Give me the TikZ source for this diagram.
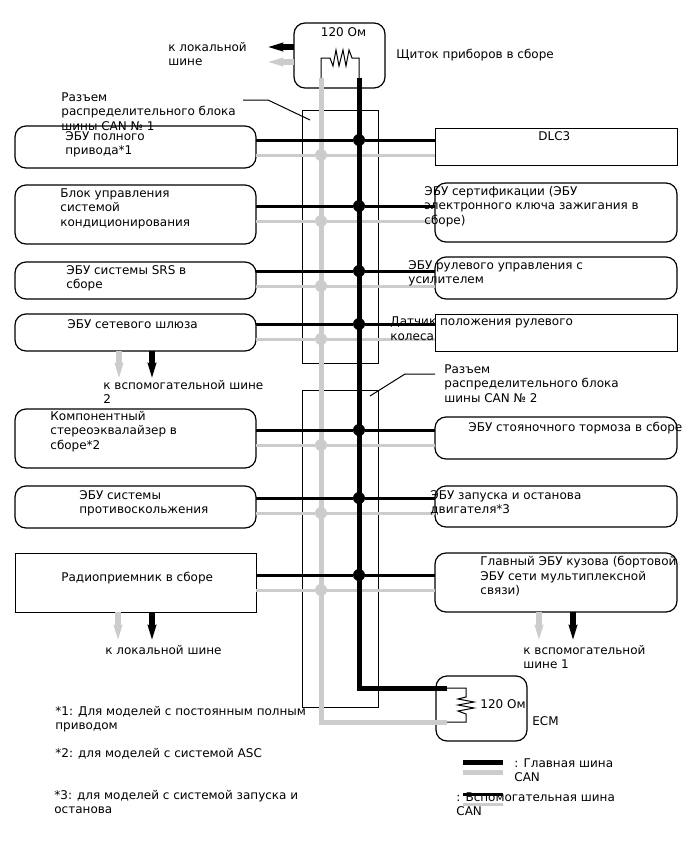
\documentclass[tikz,border=0pt]{standalone}
\usepackage{fontspec}
\setmainfont{DejaVu Sans}
\usetikzlibrary{positioning, arrows.meta}

\begin{document}
\begin{tikzpicture}[x=1pt, y=-1pt, thick,
  font=\fontsize{12}{14.5}\selectfont,
  main box/.style={draw, line width=1.2pt, rounded corners=11pt, fill=white, inner sep=0, outer sep=0, anchor=north west},
  flat box/.style={draw, line width=1pt, fill=white, inner sep=0, outer sep=0, anchor=north west},
  conn box/.style={draw, line width=1pt, inner sep=0, outer sep=0, anchor=north west},
  lbl/.style={anchor=north west, inner sep=0, align=left, yshift=10.15pt, execute at begin node=\strut},
  hi joint/.style={circle, fill=black, inner sep=0, minimum size=12pt},
  lo joint/.style={circle, fill=black!20, inner sep=0, minimum size=12pt},
  hi bus/.style={line width=5pt, black},
  lo bus/.style={line width=5pt, black!20},
  hi line/.style={line width=3pt, black},
  lo line/.style={line width=3pt, black!20},
  hi out/.style={line width=5.5pt, black, -{Stealth[length=15pt, width=8.5pt, inset=2pt]}},
  lo out/.style={line width=5.5pt, black!20, -{Stealth[length=15pt, width=8.5pt, inset=2pt]}},
  thin wire/.style={line width=1pt}]

\useasboundingbox (0,0) rectangle (688,852);

% connector blocks
\node[conn box, minimum width=76pt, minimum height=253pt] (connA) at (302.5,110) {};
\node[conn box, minimum width=76pt, minimum height=317pt] (connB) at (302.5,390) {};

% left column
\node[main box, minimum width=241pt, minimum height=42pt] (awd) at (15,126) {};
\node[main box, minimum width=241pt, minimum height=59pt] (climate) at (15,185) {};
\node[main box, minimum width=241pt, minimum height=37pt] (srs) at (15,262) {};
\node[main box, minimum width=241pt, minimum height=37pt] (gateway) at (15,314) {};
\node[main box, minimum width=241pt, minimum height=59pt] (stereo) at (15,409) {};
\node[main box, minimum width=241pt, minimum height=42pt] (abs) at (15,486) {};
\node[flat box, minimum width=241pt, minimum height=59pt] (radio) at (15,553) {};

% right column
\node[flat box, minimum width=242pt, minimum height=37pt] (dlc) at (435,128) {};
\node[main box, minimum width=242pt, minimum height=59pt] (cert) at (435,183) {};
\node[main box, minimum width=242pt, minimum height=42pt] (eps) at (435,257) {};
\node[flat box, minimum width=242pt, minimum height=37pt] (sensor) at (435,314) {};
\node[main box, minimum width=242pt, minimum height=42pt] (park) at (435,417) {};
\node[main box, minimum width=242pt, minimum height=41pt] (stst) at (435,486) {};
\node[main box, minimum width=242pt, minimum height=59pt] (body) at (435,553) {};

% terminators
\node[main box, minimum width=91pt, minimum height=65pt] (meter) at (294,23) {};
\node[main box, minimum width=91pt, minimum height=65pt] (ecm) at (436,676) {};

% bus ends
\coordinate (hiTop) at (359,78);
\coordinate (loTop) at (321,78);
\coordinate (hiEnd) at (447,688);
\coordinate (loEnd) at (447,722);
\coordinate (hiCorner) at (359,688);
\coordinate (loCorner) at (321,722);

% splice points
\foreach \name/\yy in {A/140, B/206, C/271, D/324, E/430, F/498, G/575}
  \node[hi joint] (hi\name) at (359,\yy) {};
\foreach \name/\yy in {A/155, B/221, C/286, D/339, E/445, F/513, G/590}
  \node[lo joint] (lo\name) at (321,\yy) {};

% low side first, the black runs over it
\draw[lo bus, line join=miter] (loTop) -- (loCorner) -- (loEnd);
\foreach \lft/\rgt/\name in {awd/dlc/A, climate/cert/B, srs/eps/C, gateway/sensor/D, stereo/park/E, abs/stst/F, radio/body/G}
  \draw[lo line] (\lft.east |- lo\name) -- (lo\name) -- (\rgt.west |- lo\name);
\draw[hi bus, line join=miter] (hiTop) -- (hiCorner) -- (hiEnd);
\foreach \lft/\rgt/\name in {awd/dlc/A, climate/cert/B, srs/eps/C, gateway/sensor/D, stereo/park/E, abs/stst/F, radio/body/G}
  \draw[hi line] (\lft.east |- hi\name) -- (hi\name) -- (\rgt.west |- hi\name);

% resistors
\draw[thin wire] (loTop) -- (321,58) -- (330,58) -- (333,66) -- (336,50) -- (339,66) -- (343,50) -- (346,66) -- (349,50) -- (352,58) -- (359,58) -- (hiTop);
\draw[thin wire] (hiEnd) -- (466,688) -- (466,697) -- (458,699) -- (474,702) -- (458,705) -- (474,708) -- (458,711) -- (466,714) -- (466,722) -- (loEnd);

% stubs to the other buses
\coordinate (meterHi) at (268,47);
\coordinate (meterLo) at (268,62);
\coordinate (gwLo) at (119,378);
\coordinate (gwHi) at (152,378);
\coordinate (radioLo) at (118,640);
\coordinate (radioHi) at (152,640);
\coordinate (bodyLo) at (539,640);
\coordinate (bodyHi) at (573,640);
\draw[hi out] (meter.west |- meterHi) -- (meterHi);
\draw[lo out] (meter.west |- meterLo) -- (meterLo);
\draw[lo out] (gateway.south -| gwLo) -- (gwLo);
\draw[hi out] (gateway.south -| gwHi) -- (gwHi);
\draw[lo out] (radio.south -| radioLo) -- (radioLo);
\draw[hi out] (radio.south -| radioHi) -- (radioHi);
\draw[lo out] (body.south -| bodyLo) -- (bodyLo);
\draw[hi out] (body.south -| bodyHi) -- (bodyHi);

% leaders
\coordinate (leadA) at (243,100);
\coordinate (leadB) at (435,374);
\draw[thin wire] (leadA) -- (268,100) -- (310,120);
\draw[thin wire] (leadB) -- (405,374) -- (370,396);

% labels
\node[lbl] (meterOhm) at (320.5,36) {120 Ом};
\node[lbl] (meterTxt) at (396,58) {Щиток приборов в сборе};
\node[lbl] (localTxt) at (168,52) {к локальной\\шине};
\node[lbl] (connAtxt) at (61,102) {Разъем\\распределительного блока\\шины CAN № 1};
\node[lbl] (connBtxt) at (444,374) {Разъем\\распределительного блока\\шины CAN № 2};
\node[lbl] (awdTxt) at (65,141) {ЭБУ полного\\привода*1};
\node[lbl] (climateTxt) at (60,198) {Блок управления\\системой\\кондиционирования};
\node[lbl] (srsTxt) at (66,275) {ЭБУ системы SRS в\\сборе};
\node[lbl] (gatewayTxt) at (67,328) {ЭБУ сетевого шлюза};
\node[lbl] (aux2Txt) at (103,390) {к вспомогательной шине\\2};
\node[lbl] (stereoTxt) at (50,421) {Компонентный\\стереоэквалайзер в\\сборе*2};
\node[lbl] (absTxt) at (79,500) {ЭБУ системы\\противоскольжения};
\node[lbl] (radioTxt) at (61,581) {Радиоприемник в сборе};
\node[lbl] (localBtxt) at (105,654) {к локальной шине};
\node[lbl] (dlcTxt) at (538,140) {DLC3};
\node[lbl] (certTxt) at (424,196) {ЭБУ сертификации (ЭБУ\\электронного ключа зажигания в\\сборе)};
\node[lbl] (epsTxt) at (408,270) {ЭБУ рулевого управления с\\усилителем};
\node[lbl] (sensorTxt) at (390,326.5) {Датчик положения рулевого\\колеса};
\node[lbl] (parkTxt) at (468,431) {ЭБУ стояночного тормоза в сборе};
\node[lbl] (ststTxt) at (430,500) {ЭБУ запуска и останова\\двигателя*3};
\node[lbl] (bodyTxt) at (480,566) {Главный ЭБУ кузова (бортовой\\ЭБУ сети мультиплексной\\связи)};
\node[lbl] (aux1Txt) at (523,655) {к вспомогательной\\шине 1};
\node[lbl] (ecmOhm) at (480,708) {120 Ом};
\node[lbl] (ecmTxt) at (532,725) {ECM};
\node[lbl] (noteA) at (55,716) {*1: Для моделей с постоянным полным\\приводом};
\node[lbl] (noteB) at (55,757) {*2: для моделей с системой ASC};
\node[lbl] (noteC) at (54,800) {*3: для моделей с системой запуска и\\останова};

% key
\coordinate (keyA) at (463,762);
\coordinate (keyB) at (503,762);
\coordinate (keyC) at (463,772.5);
\coordinate (keyD) at (503,772.5);
\coordinate (keyE) at (463,794);
\coordinate (keyF) at (503,794);
\coordinate (keyG) at (463,804);
\coordinate (keyH) at (503,804);
\draw[hi bus] (keyA) -- (keyB);
\draw[lo bus] (keyC) -- (keyD);
\draw[hi line] (keyE) -- (keyF);
\draw[lo line] (keyG) -- (keyH);
\node[lbl] (keyMain) at (514,768) {: Главная шина\\CAN};
\node[lbl] (keyAux) at (456,802) {: Вспомогательная шина\\CAN};

\end{tikzpicture}
\end{document}
